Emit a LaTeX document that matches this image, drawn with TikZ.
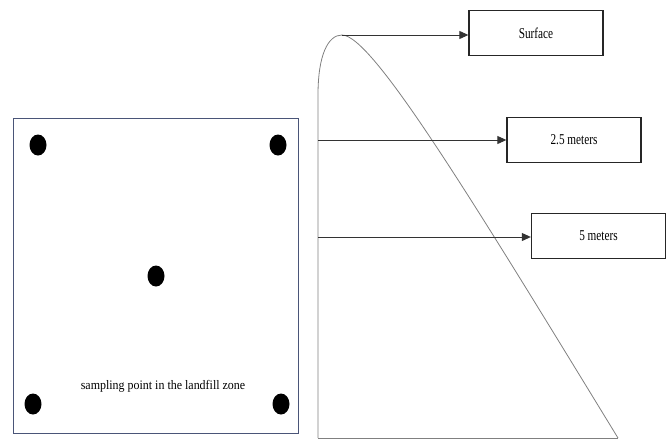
\documentclass[tikz,border=0pt]{standalone}
\usepackage{fontspec}
\setmainfont{Liberation Serif}
\newfontfamily\boxfont[FakeStretch=0.75]{Liberation Serif}
\newfontfamily\capfont[FakeStretch=0.92]{Liberation Serif}
\usetikzlibrary{arrows.meta,shapes.geometric}
\definecolor{framecol}{HTML}{4A5578}
\tikzset{
  depthbox/.style={draw=black!85, line width=1.3pt, minimum width=134pt, minimum height=45pt, inner sep=0pt, font=\boxfont\fontsize{15}{15}\selectfont},
  probe/.style={draw=black!80, line width=0.9pt, -{Triangle[length=9pt,width=8pt]}},
  soil/.style={draw=black!50, line width=0.8pt},
  dot/.style={ellipse, fill=black, minimum width=17pt, minimum height=21pt, inner sep=0pt},
}
\begin{document}
\begin{tikzpicture}[x=1pt,y=1pt]
\useasboundingbox (0,0) rectangle (672,-439);
% left plan
\node[draw=framecol, line width=0.8pt, minimum width=285pt, minimum height=315pt, inner sep=0pt] (plan) at (155.5,-275.5) {};
\node[dot] (d1) at (38,-145) {};
\node[dot] (d2) at (278,-145) {};
\node[dot] (d3) at (156,-276) {};
\node[dot] (d4) at (33,-404) {};
\node[dot] (d5) at (281,-404) {};
\node[font=\capfont\fontsize{13}{13}\selectfont] (cap) at (163,-386) {sampling point in the landfill zone};
% profile
\coordinate (base) at (318,-95);
\coordinate (peak) at (342,-35);
\coordinate (bl) at (318,-438);
\coordinate (br) at (618,-438);
\coordinate (m1) at (318,-140);
\coordinate (m2) at (318,-237);
\draw[soil] (bl) -- (base) .. controls (318,-55) and (328,-35) .. (peak)
  .. controls (372,-35) and (470,-196) .. (br);
\draw[soil] (bl) -- (br);
% boxes
\node[depthbox] (surf) at (536,-33) {Surface};
\node[depthbox] (d25) at (574,-140) {2.5 meters};
\node[depthbox] (d50) at (598.5,-236) {5 meters};
\draw[probe] (peak) -- (peak -| surf.west);
\draw[probe] (m1) -- (m1 -| d25.west);
\draw[probe] (m2) -- (m2 -| d50.west);
\end{tikzpicture}
\end{document}
